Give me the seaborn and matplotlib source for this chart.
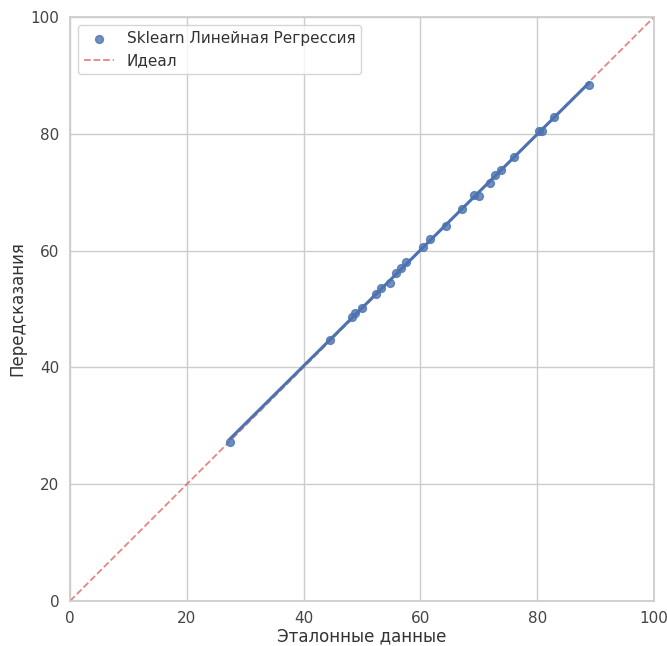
import matplotlib
matplotlib.use("Agg")
import matplotlib.pyplot as plt
import seaborn as sns
import pandas as pd

y_true = [27.4, 44.5, 48.3, 48.8, 50.0, 52.4, 53.3, 54.8, 55.8, 56.7, 57.5,
          60.4, 61.6, 64.4, 67.1, 69.2, 70.0, 71.9, 72.8, 73.8, 76.0,
          80.3, 80.8, 82.9, 88.9]
y_pred = [27.2, 44.7, 48.6, 49.3, 50.2, 52.6, 53.6, 54.5, 56.2, 57.0, 58.0,
          60.6, 62.0, 64.2, 67.1, 69.5, 69.3, 71.6, 72.9, 73.8, 76.0,
          80.5, 80.5, 82.9, 88.4]
ideal = [0, 100]
ticks = [0, 20, 40, 60, 80, 100]

sns.set_theme(style="whitegrid")
plt.rcParams['font.family'] = ['DejaVu Sans']

df = pd.DataFrame({"true": y_true, "pred": y_pred})

fig, ax = plt.subplots(figsize=(6.67, 6.46), dpi=100)
fig.subplots_adjust(left=0.105, right=0.9805, top=0.9737, bottom=0.0697)

sns.regplot(data=df, x="true", y="pred", ax=ax, ci=None,
            label="Sklearn Линейная Регрессия",
            scatter_kws={"s": 32, "zorder": 3}, line_kws={"linewidth": 2.2, "zorder": 4})
sns.lineplot(x=ideal, y=ideal, ax=ax, color="#d9534f", alpha=0.7,
             linestyle="--", linewidth=1.3, label="Идеал", zorder=2)

ax.set_xlim(0, 100)
ax.set_ylim(0, 100)
ax.set_xticks(ticks)
ax.set_yticks(ticks)
ax.set_xlabel("Эталонные данные", fontsize=12, labelpad=1, color="#333333")
ax.set_ylabel("Передсказания", fontsize=12, labelpad=3, color="#333333")
ax.tick_params(labelsize=11, colors="#444444", pad=1.5)
leg = ax.legend(loc="upper left", fontsize=11)
for t in leg.get_texts():
    t.set_color("#333333")

fig.savefig("out.png", dpi=100)
